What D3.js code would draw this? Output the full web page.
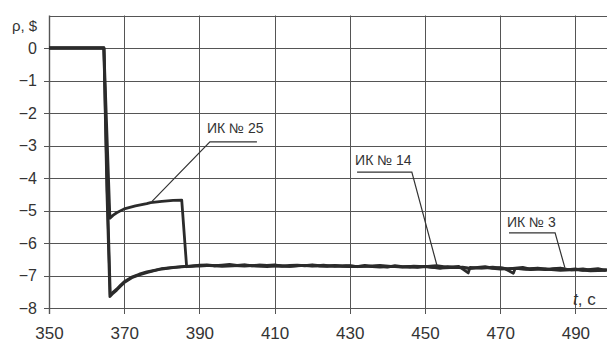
<!DOCTYPE html>
<html>
<head>
<meta charset="utf-8">
<script src="https://cdn.jsdelivr.net/npm/d3@7/dist/d3.min.js"></script>
<style>
  body { margin: 0; background: #fff; }
  svg { display: block; }
</style>
</head>
<body>
<div id="chart"></div>
<script>
// ticks
var xTicks = [350, 370, 390, 410, 430, 450, 470, 490];
var yTicks = [1, 0, -1, -2, -3, -4, -5, -6, -7, -8];
var yLabels = [0, -1, -2, -3, -4, -5, -6, -7, -8];

// ИК № 25 : drop, recovery to plateau, then second drop
var ik25Time = [350, 364.6, 366.2, 367, 368, 370, 373, 376, 377, 380, 383, 385.3, 386.6, 388,
  390, 394, 398, 402, 406, 410, 414, 418, 422, 426, 430, 434, 438, 442, 446, 450,
  454, 458, 462, 466, 470, 474, 478, 482, 486, 490, 494, 498];
var ik25Rho = [0, 0, -5.24, -5.15, -5.07, -4.95, -4.86, -4.79, -4.76, -4.72, -4.69, -4.68, -6.73, -6.71,
  -6.68, -6.70, -6.69, -6.71, -6.68, -6.70, -6.72, -6.69, -6.71, -6.70, -6.73, -6.71, -6.74, -6.72, -6.75, -6.73,
  -6.77, -6.75, -6.78, -6.76, -6.80, -6.78, -6.82, -6.80, -6.84, -6.82, -6.86, -6.84];

// ИК № 14
var ik14Time = [350, 364.6, 365.4, 366.2, 367, 368, 369, 370, 372, 374, 376, 378, 380, 383, 386, 388,
  390, 392, 394, 396, 398, 400, 402, 404, 406, 408, 410, 412, 414, 416, 418, 420, 422, 424, 426, 428,
  430, 432, 434, 436, 438, 440, 442, 444, 446, 448, 450, 452, 454, 456, 458, 460, 462, 464, 466, 468,
  470, 472, 474, 476, 478, 480, 482, 484, 486, 488, 490, 492, 494, 496, 498, 500];
var ik14Rho = [0, 0, -4.4, -7.65, -7.55, -7.45, -7.33, -7.22, -7.07, -6.98, -6.91, -6.85, -6.80, -6.76, -6.73, -6.71,
  -6.69, -6.67, -6.70, -6.68, -6.66, -6.69, -6.67, -6.70, -6.68, -6.69, -6.67, -6.71, -6.69, -6.68, -6.70, -6.67, -6.70, -6.72, -6.69, -6.71,
  -6.70, -6.73, -6.69, -6.72, -6.71, -6.74, -6.70, -6.73, -6.72, -6.75, -6.72, -6.75, -6.77, -6.73, -6.76, -6.74, -6.78, -6.75, -6.73, -6.77,
  -6.76, -6.80, -6.77, -6.75, -6.80, -6.78, -6.82, -6.79, -6.77, -6.82, -6.80, -6.84, -6.81, -6.79, -6.84, -6.82];

// ИК № 3
var ik3Time = [350, 364.6, 365.5, 366.3, 367, 368, 369, 370, 372, 374, 376, 378, 380, 383, 386, 388,
  390, 393, 396, 399, 402, 405, 408, 411, 414, 417, 420, 423, 426, 429, 432, 435, 438, 441, 444, 447,
  450, 453, 456, 459, 461.5, 462, 465, 468, 471, 473.5, 474, 477, 480, 483, 486, 489, 492, 495, 498, 500];
var ik3Rho = [0, 0, -4.4, -7.60, -7.52, -7.42, -7.30, -7.19, -7.05, -6.96, -6.89, -6.84, -6.79, -6.75, -6.72, -6.71,
  -6.71, -6.69, -6.72, -6.70, -6.68, -6.71, -6.73, -6.70, -6.72, -6.69, -6.71, -6.68, -6.72, -6.70, -6.73, -6.71, -6.69, -6.72, -6.74, -6.71,
  -6.73, -6.70, -6.74, -6.72, -6.92, -6.75, -6.77, -6.74, -6.78, -6.93, -6.78, -6.80, -6.77, -6.81, -6.79, -6.83, -6.80, -6.85, -6.82, -6.86];

var seriesNames = ["ИК № 25", "ИК № 14", "ИК № 3"];

// label anchors in data units: text start, underline end, leader target
var labelT = [392.0, 431.4, 471.8];
var labelRho = [-2.62, -3.60, -5.51];
var lineRho = [-2.89, -3.82, -5.69];
var lineEndT = [405.3, 446.5, 484.6];
var targetT = [377.4, 453.2, 487.2];
var targetRho = [-4.72, -6.70, -6.76];

var width = 607, height = 344;
var svg = d3.select("#chart").append("svg")
  .attr("width", width)
  .attr("height", height);

var x = d3.scaleLinear().domain([350, 500]).range([49, 613]);
var y = d3.scaleLinear().domain([-8, 1]).range([308, 15.5]);

var gridColor = "#555";
var inkColor = "#2b2b2b";

// horizontal grid
svg.append("g").selectAll("line")
  .data(yTicks)
  .enter().append("line")
  .attr("x1", function(d) { return d == 1 ? x(350) : x(350) - 5; })
  .attr("x2", width)
  .attr("y1", function(d) { return Math.round(y(d)) + 0.5; })
  .attr("y2", function(d) { return Math.round(y(d)) + 0.5; })
  .attr("stroke", gridColor)
  .attr("stroke-width", 1);

// vertical grid
svg.append("g").selectAll("line")
  .data(xTicks)
  .enter().append("line")
  .attr("x1", function(d) { return Math.round(x(d)) + 0.5; })
  .attr("x2", function(d) { return Math.round(x(d)) + 0.5; })
  .attr("y1", y(1))
  .attr("y2", y(-8) + 6)
  .attr("stroke", gridColor)
  .attr("stroke-width", function(d) { return d == 350 ? 1.4 : 1; });

// axes: labels only
var xAxis = svg.append("g")
  .attr("transform", "translate(0," + (y(-8) + 10) + ")")
  .call(d3.axisBottom(x).tickValues(xTicks).tickSize(0).tickFormat(d3.format("d")));
xAxis.select(".domain").remove();
xAxis.selectAll("text")
  .attr("dy", "1.05em")
  .style("font-family", "Liberation Sans, Arial, sans-serif")
  .style("font-size", "17px")
  .style("fill", "#333");

var yAxis = svg.append("g")
  .attr("transform", "translate(" + (x(350) - 9) + ",0)")
  .call(d3.axisLeft(y).tickValues(yLabels).tickSize(0)
    .tickFormat(function(d) { return d < 0 ? "\u2212" + Math.abs(d) : d; }));
yAxis.select(".domain").remove();
yAxis.selectAll("text")
  .style("font-family", "Liberation Sans, Arial, sans-serif")
  .style("font-size", "16px")
  .style("fill", "#333");

// curves
var line = d3.line()
  .x(function(d) { return x(d[0]); })
  .y(function(d) { return y(d[1]); })
  .curve(d3.curveLinear);

var series = [
  d3.zip(ik25Time, ik25Rho),
  d3.zip(ik14Time, ik14Rho),
  d3.zip(ik3Time, ik3Rho)
];

svg.append("g").selectAll("path")
  .data(series)
  .enter().append("path")
  .attr("d", line)
  .attr("fill", "none")
  .attr("stroke", inkColor)
  .attr("stroke-width", 2.8)
  .attr("stroke-linejoin", "round");

// leaders and labels
seriesNames.forEach(function(name, i) {
  var pts = [
    [x(labelT[i]) + 2, y(lineRho[i])],
    [x(lineEndT[i]), y(lineRho[i])],
    [x(targetT[i]), y(targetRho[i])]
  ];
  if (i == 0) {
    pts = [
      [x(lineEndT[i]), y(lineRho[i])],
      [x(labelT[i]) + 3, y(lineRho[i])],
      [x(targetT[i]), y(targetRho[i])]
    ];
  }
  svg.append("path")
    .attr("d", d3.line()(pts))
    .attr("fill", "none")
    .attr("stroke", "#333")
    .attr("stroke-width", 1.2);
  svg.append("text")
    .attr("x", x(labelT[i]))
    .attr("y", y(labelRho[i]))
    .style("font-family", "Liberation Sans, Arial, sans-serif")
    .style("font-size", "14px")
    .style("fill", "#333")
    .text(name);
});

// axis titles
svg.append("text")
  .attr("x", 12)
  .attr("y", 31)
  .style("font-family", "Liberation Sans, Arial, sans-serif")
  .style("font-size", "15px")
  .style("fill", "#333")
  .text("ρ, $");

var tLabel = svg.append("text")
  .attr("x", 573)
  .attr("y", 305)
  .style("font-family", "Liberation Sans, Arial, sans-serif")
  .style("font-size", "17px")
  .style("fill", "#333");
tLabel.append("tspan").style("font-style", "italic").text("t");
tLabel.append("tspan").text(", c");
</script>
</body>
</html>
